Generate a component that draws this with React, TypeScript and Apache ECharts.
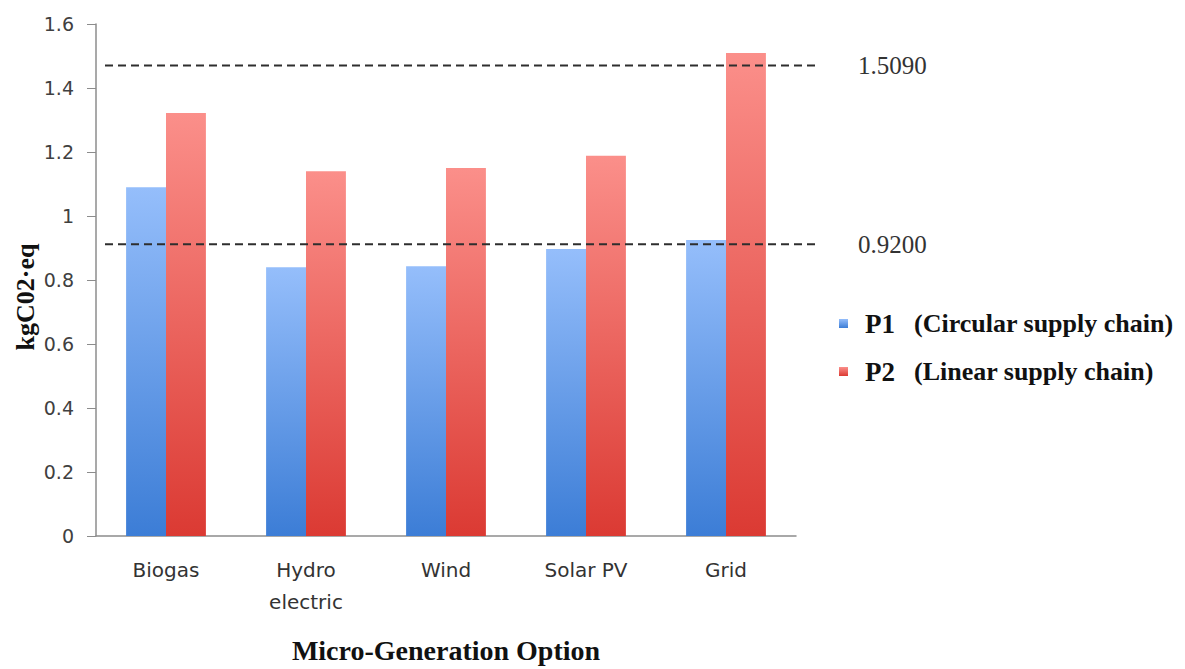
import React, { useEffect, useRef } from "react";
import * as echarts from "echarts";

const categories = ["Biogas", "Hydro\nelectric", "Wind", "Solar PV", "Grid"];
const p1Values = [1.09, 0.84, 0.843, 0.897, 0.925];
const p2Values = [1.322, 1.14, 1.15, 1.188, 1.509];
const seriesNames = ["P1", "P2"];
const seriesDescriptions = ["(Circular supply chain)", "(Linear supply chain)"];
const refLineValues = [1.47, 0.912];
const refLineLabels = ["1.5090", "0.9200"];
const yTicks = { min: 0, max: 1.6, interval: 0.2 };
const xTitle = "Micro-Generation Option";
const yTitle = "kgC02·eq";

const SERIF = "Liberation Serif, Times New Roman, serif";
const SANS = "DejaVu Sans, Verdana, sans-serif";

export default function App() {
  const ref = useRef<HTMLDivElement>(null);

  useEffect(() => {
    if (!ref.current) return;
    const chart = echarts.init(ref.current, null, { renderer: "svg" });

    const blue = new echarts.graphic.LinearGradient(0, 0, 0, 1, [
      { offset: 0, color: "#95befb" },
      { offset: 1, color: "#3c7dd6" },
    ]);
    const red = new echarts.graphic.LinearGradient(0, 0, 0, 1, [
      { offset: 0, color: "#fb8f8a" },
      { offset: 1, color: "#db3a33" },
    ]);

    const refSeries = refLineValues.map((v, i) => ({
      name: "ref" + i,
      type: "line",
      xAxisIndex: 1,
      yAxisIndex: 1,
      clip: false,
      symbol: "none",
      silent: true,
      data: [
        [0, v],
        [1, v],
      ],
      lineStyle: { color: "#2e2e2e", width: 2, type: [8, 5] },
      endLabel: {
        show: true,
        formatter: refLineLabels[i],
        distance: 43,
        fontSize: 25,
        fontFamily: SERIF,
        color: "#333",
      },
      z: 5,
    }));

    chart.setOption({
      animation: false,
      backgroundColor: "#ffffff",
      grid: [
        { left: 96, right: 389, top: 24, bottom: 133, containLabel: false, outerBoundsMode: "none" },
        { left: 105, right: 370, top: 24, bottom: 133, containLabel: false, outerBoundsMode: "none" },
      ],
      legend: {
        data: seriesNames,
        orient: "vertical",
        left: 834,
        top: 305,
        icon: "rect",
        itemWidth: 9,
        itemHeight: 9,
        itemGap: 21,
        selectedMode: false,
        formatter: (name: string) => {
          const idx = seriesNames.indexOf(name);
          return `{s|}{p|${name}}{g|}{d|${seriesDescriptions[idx]}}`;
        },
        textStyle: {
          color: "#111",
          rich: {
            s: { width: 12 },
            g: { width: 19 },
            p: { fontSize: 27, fontWeight: "bold", fontFamily: SERIF, color: "#111" },
            d: { fontSize: 26, fontWeight: "bold", fontFamily: SERIF, color: "#111" },
          },
        },
      },
      xAxis: [
        {
          type: "category",
          gridIndex: 0,
          data: categories,
          axisLine: { lineStyle: { color: "#8c8c8c", width: 1.5 } },
          axisTick: { show: false },
          axisLabel: {
            fontSize: 20,
            fontFamily: SANS,
            color: "#333",
            margin: 18,
            lineHeight: 32,
          },
          name: xTitle,
          nameLocation: "middle",
          nameGap: 100,
          nameTextStyle: {
            fontSize: 28,
            fontWeight: "bold",
            fontFamily: SERIF,
            color: "#111",
          },
        },
        {
          type: "value",
          gridIndex: 1,
          min: 0,
          max: 1,
          show: false,
        },
      ],
      yAxis: [
        {
          type: "value",
          gridIndex: 0,
          min: yTicks.min,
          max: yTicks.max,
          interval: yTicks.interval,
          splitLine: { show: false },
          axisLine: { show: true, onZero: false, lineStyle: { color: "#8c8c8c", width: 1.5 } },
          axisTick: { show: true, length: 9, lineStyle: { color: "#8c8c8c" } },
          axisLabel: {
            fontSize: 19,
            fontFamily: SANS,
            color: "#404040",
            margin: 22,
          },
        },
        {
          type: "value",
          gridIndex: 1,
          min: yTicks.min,
          max: yTicks.max,
          show: false,
        },
      ],
      graphic: [
        {
          type: "text",
          x: 25,
          y: 297,
          rotation: Math.PI / 2,
          style: {
            text: yTitle,
            fontSize: 26,
            fontWeight: "bold",
            fontFamily: SERIF,
            fill: "#111",
            align: "center",
            verticalAlign: "middle",
          },
        },
      ],
      series: [
        {
          name: seriesNames[0],
          type: "bar",
          xAxisIndex: 0,
          yAxisIndex: 0,
          data: p1Values,
          barGap: "0%",
          barCategoryGap: "43%",
          itemStyle: { color: blue },
        },
        {
          name: seriesNames[1],
          type: "bar",
          xAxisIndex: 0,
          yAxisIndex: 0,
          data: p2Values,
          barGap: "0%",
          barCategoryGap: "43%",
          itemStyle: { color: red },
        },
        ...refSeries,
      ],
    });

    return () => chart.dispose();
  }, []);

  return (
    <div
      ref={ref}
      style={{ position: "fixed", left: 0, top: 0, width: 1185, height: 669 }}
    />
  );
}
